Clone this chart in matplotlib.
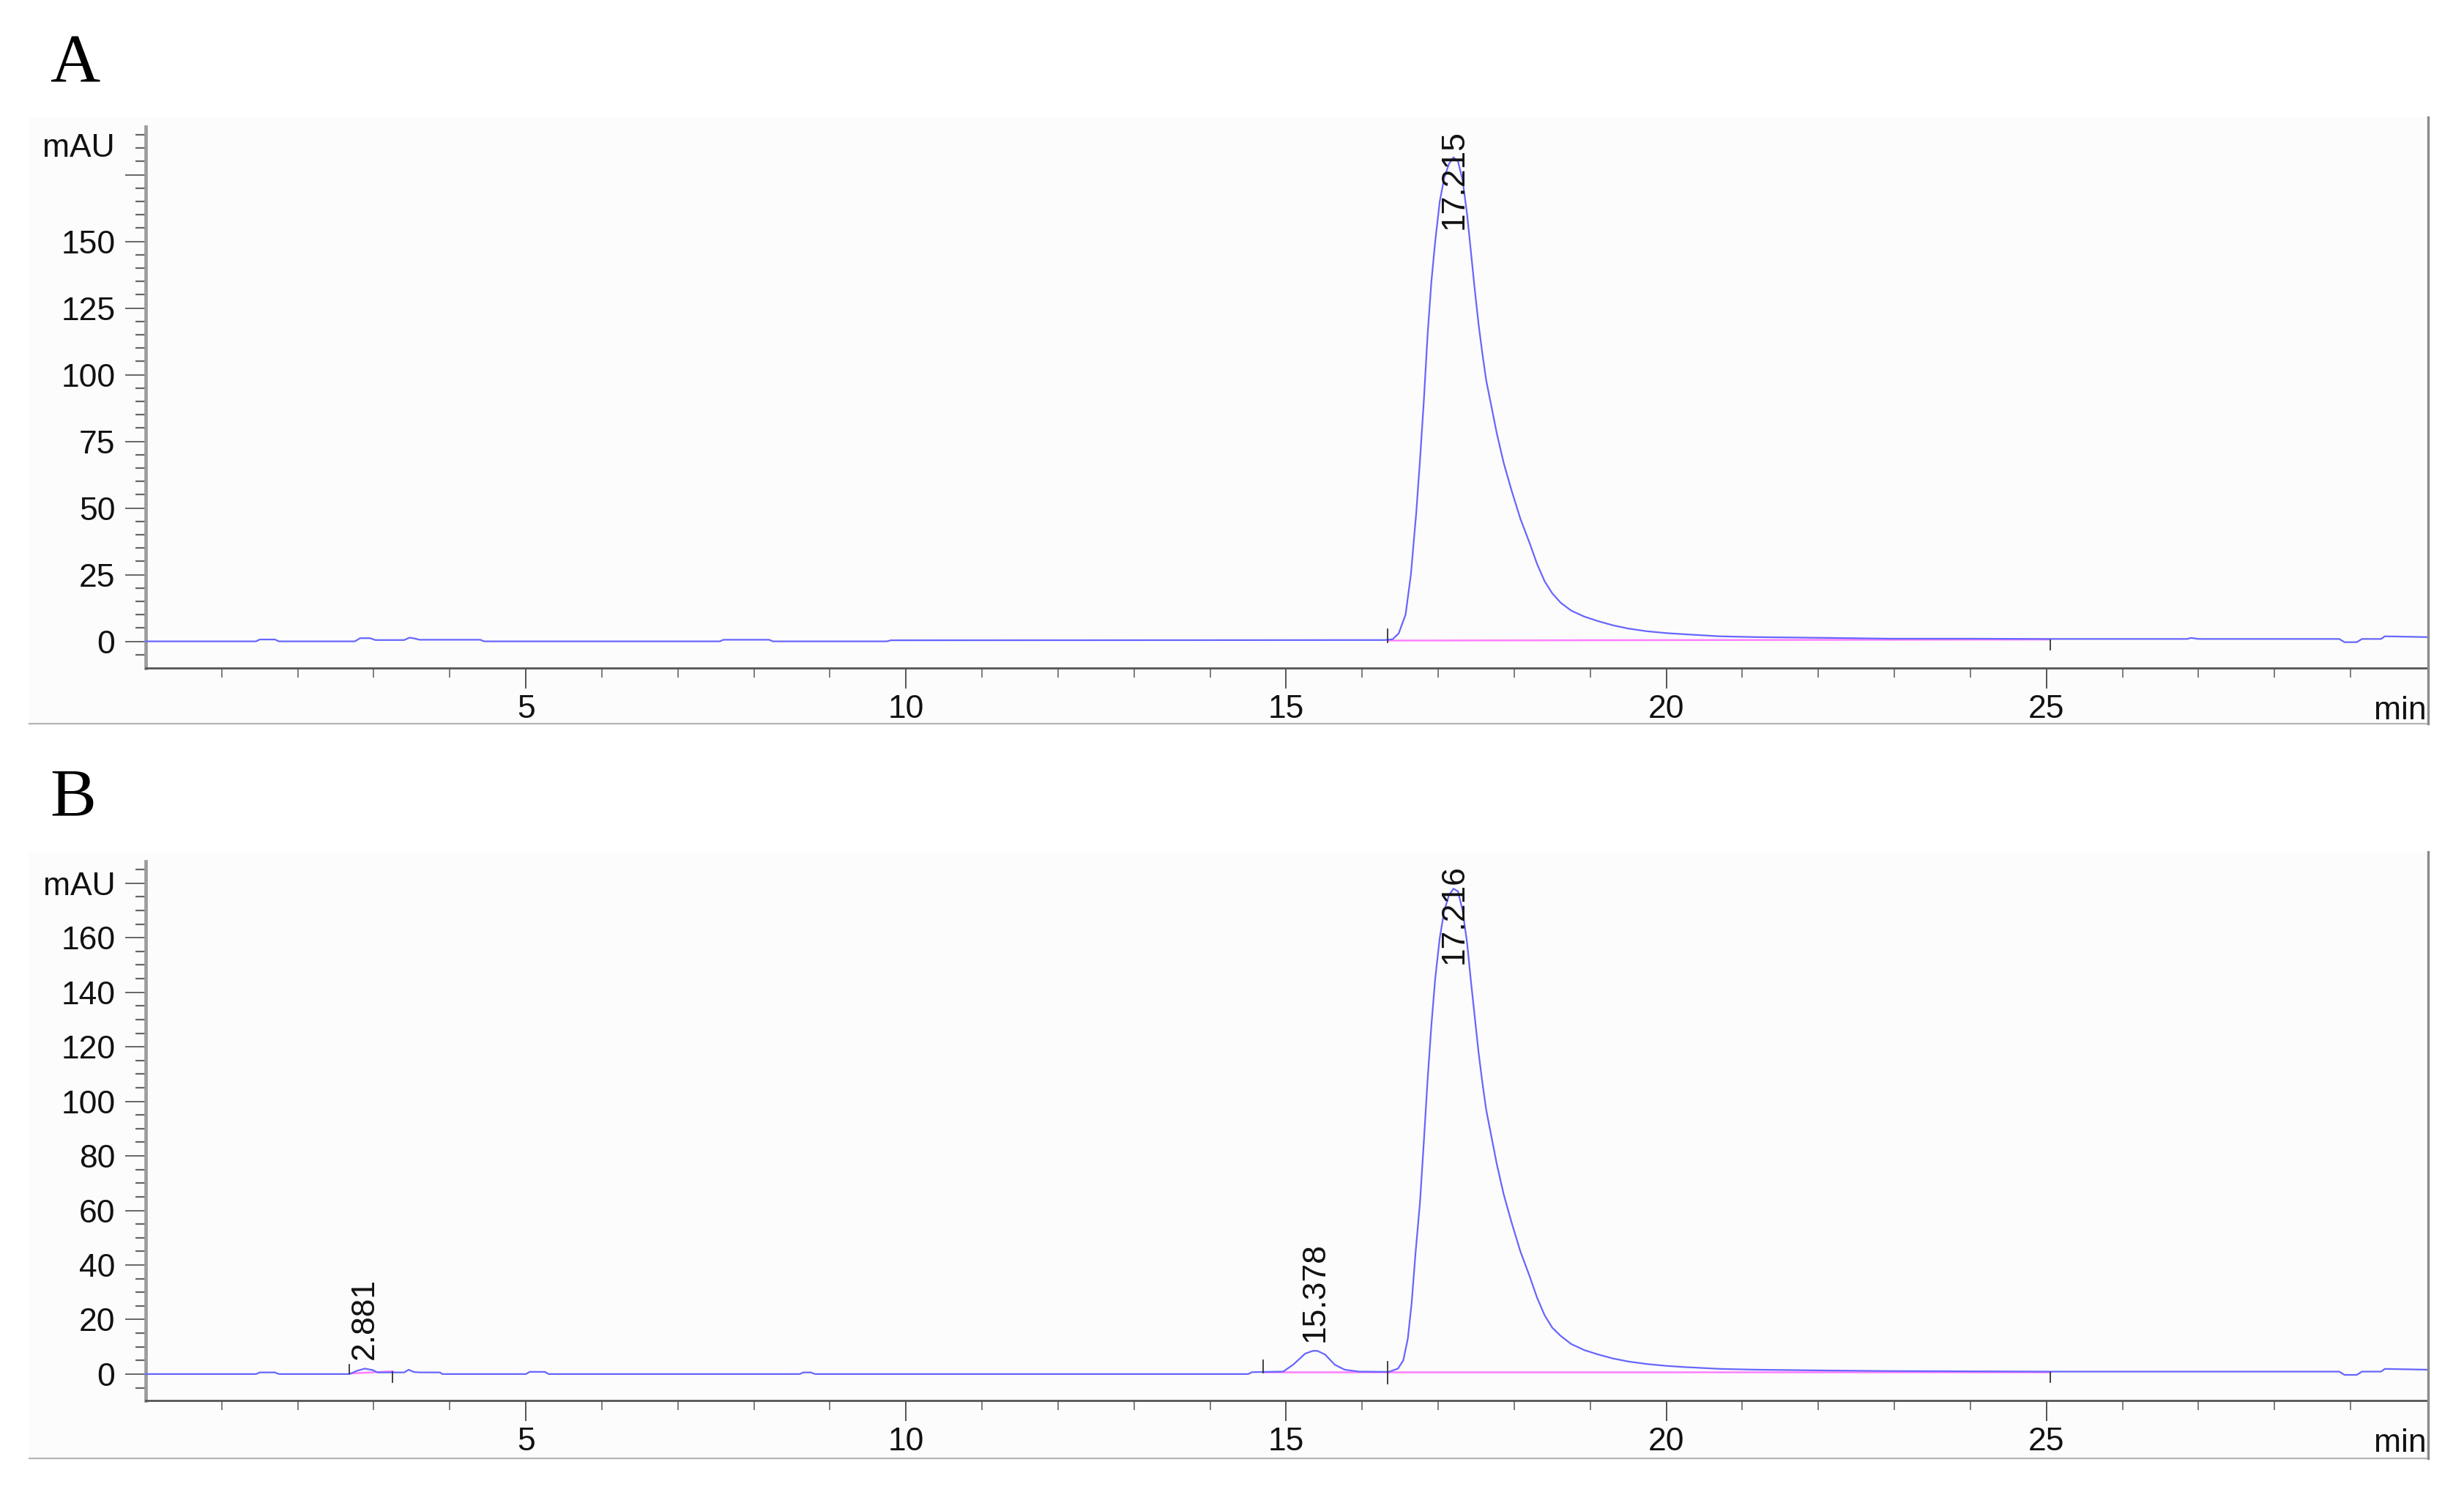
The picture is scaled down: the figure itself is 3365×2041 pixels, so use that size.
import matplotlib
matplotlib.use("Agg")
import matplotlib.pyplot as plt
from matplotlib.patches import Rectangle
from matplotlib.lines import Line2D
from matplotlib.ticker import FixedLocator, FixedFormatter

# ---------------- data ----------------
# Panel A chromatogram: time (min) and signal (mAU)
time_a = [0, 1.45, 1.5, 1.7, 1.75, 2.75, 2.82, 2.95, 3.02, 3.4, 3.47, 3.55, 3.6, 4.4, 4.45,
          7.55, 7.6, 8.2, 8.25, 9.75, 9.8, 16.3, 16.4, 16.48, 16.57, 16.64, 16.71, 16.76,
          16.81, 16.86, 16.91, 16.96, 17.02, 17.08, 17.14, 17.2, 17.26, 17.32, 17.38, 17.43,
          17.48, 17.53, 17.58, 17.63, 17.7, 17.77, 17.86, 17.96, 18.08, 18.2, 18.3, 18.4,
          18.5, 18.61, 18.75, 18.92, 19.1, 19.3, 19.5, 19.74, 20.0, 20.22, 20.7, 21.18,
          22.14, 22.95, 24.0, 25.0, 26.0, 26.85, 26.9, 27.0, 28.85, 28.92, 29.08, 29.15,
          29.4, 29.45, 30.0]
signal_a = [0, 0, 0.7, 0.7, 0, 0, 1.2, 1.2, 0.5, 0.5, 1.4, 1.0, 0.6, 0.6, 0,
            0, 0.6, 0.6, 0, 0, 0.4, 0.5, 0.8, 3, 10, 25, 48, 68,
            90, 115, 135, 150, 165, 174, 179, 181.5, 180, 173, 160, 146,
            132, 119, 108, 98, 88, 78, 67, 57, 46, 37, 29, 22.5,
            18, 14.5, 11.5, 9.3, 7.6, 6.0, 4.8, 3.8, 3.1, 2.7, 1.9, 1.6,
            1.3, 1.0, 1.0, 0.9, 0.9, 0.9, 1.3, 0.9, 0.9, -0.3, -0.3, 0.9,
            0.9, 1.9, 1.6]

# Panel B chromatogram
time_b = [0, 1.45, 1.5, 1.7, 1.75, 2.68, 2.78, 2.88, 2.98, 3.05, 3.4, 3.46, 3.52, 3.6, 3.87,
          3.9, 5.0, 5.05, 5.25, 5.3, 8.6, 8.65, 8.75, 8.8, 14.5, 14.55, 14.96, 15.09, 15.25,
          15.35, 15.41, 15.51, 15.64, 15.77, 15.96, 16.35, 16.47, 16.54, 16.6, 16.65, 16.7,
          16.76, 16.81, 16.86, 16.91, 16.96, 17.02, 17.08, 17.14, 17.2, 17.26, 17.32, 17.38,
          17.43, 17.48, 17.53, 17.58, 17.63, 17.7, 17.77, 17.86, 17.96, 18.08, 18.2, 18.3,
          18.4, 18.5, 18.61, 18.75, 18.92, 19.1, 19.3, 19.5, 19.74, 20.0, 20.22, 20.7,
          21.18, 22.14, 22.95, 24.0, 25.0, 26.0, 28.85, 28.92, 29.08, 29.15, 29.4, 29.45, 30.0]
signal_b = [0, 0, 0.6, 0.6, 0, 0, 1.2, 2.0, 1.5, 0.6, 0.6, 1.6, 0.8, 0.6, 0.6,
            0, 0, 0.8, 0.8, 0, 0, 0.6, 0.6, 0, 0, 0.7, 0.9, 3.4, 7.5,
            8.5, 8.5, 7.2, 3.4, 1.6, 0.9, 0.8, 2, 5, 13, 26, 44,
            63, 85, 108, 128, 145, 160, 170, 175.5, 178, 177, 170, 158,
            144, 131, 118, 107, 97, 87, 77, 66, 56, 45, 36, 28,
            21.5, 17, 14, 11, 8.8, 7.2, 5.7, 4.6, 3.7, 3.0, 2.6, 1.9,
            1.6, 1.3, 1.1, 1.0, 0.9, 0.9, 0.9, -0.3, -0.3, 0.9, 0.9, 1.9, 1.6]

# Peak labels (retention times) and apex heights
peaks_a = [17.215]
heights_a = [181.5]
peaks_b = [2.881, 15.378, 17.216]
heights_b = [2.0, 8.5, 178]

# Integration baselines (start time, start mAU, end time, end mAU)
baselines_a = [(16.35, 0.3, 25.05, 0.7)]
baselines_b = [(2.68, 0.2, 3.25, 1.0), (14.7, 0.8, 16.35, 0.8), (16.35, 0.8, 25.05, 0.8)]
# Integration event markers (time, low mAU, high mAU)
events_a = [(16.33, -0.5, 4.5), (25.05, -3.0, 0.5)]
events_b = [(2.68, 0.3, 3.5), (3.25, -3.0, 0.8), (14.7, 0.5, 5.0), (16.33, -3.5, 4.5), (25.05, -3.0, 0.5)]

# Axis ticks
x_major = [5, 10, 15, 20, 25]
x_minor = [t for t in range(1, 30) if t % 5 != 0]
y_major_a = [0, 25, 50, 75, 100, 125, 150, 175]
y_labels_a = ["0", "25", "50", "75", "100", "125", "150", ""]
y_minor_a = [v for v in range(-5, 195, 5) if v % 25 != 0]
y_major_b = [0, 20, 40, 60, 80, 100, 120, 140, 160, 180]
y_labels_b = ["0", "20", "40", "60", "80", "100", "120", "140", "160", "mAU"]
y_minor_b = [v for v in range(-5, 190, 5) if v % 20 != 0]

# ---------------- figure ----------------
W, H = 3366, 2041
fig = plt.figure(figsize=(W / 100, H / 100), dpi=100)
fig.patch.set_facecolor("white")

SANS = "Liberation Sans"
SERIF = "Liberation Serif"
LINE_BLUE = "#6666ff"
PINK = "#ff7fff"


def fx(px):
    return px / W


def fy(py):
    return 1 - py / H


def panel_frame(top_px, bot_px):
    rect = Rectangle((fx(40), fy(bot_px)), fx(3316) - fx(40), fy(top_px) - fy(bot_px),
                     transform=fig.transFigure, facecolor="#fcfcfc", edgecolor="none", zorder=-5)
    fig.patches.append(rect)
    fig.lines.append(Line2D([fx(40), fx(3316)], [fy(bot_px), fy(bot_px)],
                            transform=fig.transFigure, color="#b5b5b5", lw=1.6, zorder=-4))
    fig.lines.append(Line2D([fx(3316), fx(3316)], [fy(top_px), fy(bot_px)],
                            transform=fig.transFigure, color="#8a8a8a", lw=2.4, zorder=5))


def make_axes(top_px, bot_px, t, s, ylim, ymaj, ylab, ymin, peaks, heights, baselines, events,
              mau_at=None):
    ax = fig.add_axes([fx(199), fy(bot_px), fx(3314) - fx(199), fy(top_px) - fy(bot_px)])
    ax.set_facecolor("none")
    ax.set_xlim(0, 30)
    ax.set_ylim(*ylim)
    for side in ("top", "right"):
        ax.spines[side].set_visible(False)
    ax.spines["left"].set_color("#9c9c9c")
    ax.spines["left"].set_linewidth(3.4)
    ax.spines["bottom"].set_color("#555555")
    ax.spines["bottom"].set_linewidth(2.0)

    ax.xaxis.set_major_locator(FixedLocator(x_major))
    ax.xaxis.set_minor_locator(FixedLocator(x_minor))
    ax.yaxis.set_major_locator(FixedLocator(ymaj))
    ax.yaxis.set_major_formatter(FixedFormatter(ylab))
    ax.yaxis.set_minor_locator(FixedLocator(ymin))
    ax.tick_params(axis="x", which="major", direction="out", length=20, width=1.4,
                   color="#555555", pad=6, labelsize=32, labelcolor="#111111")
    ax.tick_params(axis="x", which="minor", direction="out", length=9, width=1.2, color="#666666")
    ax.tick_params(axis="y", which="major", direction="out", length=20, width=1.4,
                   color="#666666", pad=10, labelsize=32, labelcolor="#111111")
    ax.tick_params(axis="y", which="minor", direction="out", length=10, width=1.6, color="#666666")
    for lab in ax.get_xticklabels() + ax.get_yticklabels():
        lab.set_fontfamily(SANS)

    ax.plot(t, s, color=LINE_BLUE, lw=1.6, zorder=3, clip_on=False)
    for (t0, y0, t1, y1) in baselines:
        ax.plot([t0, t1], [y0, y1], color=PINK, lw=1.8, zorder=2)
    for (te, lo, hi) in events:
        ax.plot([te, te], [lo, hi], color="#333333", lw=1.3, zorder=4)

    top = ylim[1]
    for rt, h in zip(peaks, heights):
        label = f"{rt:.3f}"
        if h > 100:
            ax.text(rt, top - 1.0, label, rotation=90, ha="center", va="top",
                    fontsize=32, family=SANS, color="#111111", zorder=6)
        else:
            ax.text(rt, h + 3.3, label, rotation=90, ha="center", va="bottom",
                    fontsize=32, family=SANS, color="#111111", zorder=6)

    if mau_at is not None:
        ax.annotate("mAU", xy=(0, mau_at), xycoords=("axes fraction", "data"),
                    xytext=(-30.5, 0), textcoords="offset points", ha="right",
                    va="center_baseline", fontsize=32, family=SANS, color="#111111")
    ax.annotate("min", xy=(1.0, 0), xycoords="axes fraction", xytext=(0, -57),
                textcoords="offset points", ha="right", va="bottom",
                fontsize=32, family=SANS, color="#111111")
    return ax


# Panel A
panel_frame(160, 988)
make_axes(173, 912, time_a, signal_a, (-10, 193), y_major_a, y_labels_a, y_minor_a,
          peaks_a, heights_a, baselines_a, events_a, mau_at=186)
fig.text(fx(68), fy(111), "A", fontsize=68, family=SERIF, ha="left", va="baseline")

# Panel B
panel_frame(1163, 1991)
make_axes(1176, 1912, time_b, signal_b, (-9.7, 188), y_major_b, y_labels_b, y_minor_b,
          peaks_b, heights_b, baselines_b, events_b)
fig.text(fx(68), fy(1113), "B", fontsize=68, family=SERIF, ha="left", va="baseline")

fig.savefig("out.png", dpi=100, facecolor="white")
